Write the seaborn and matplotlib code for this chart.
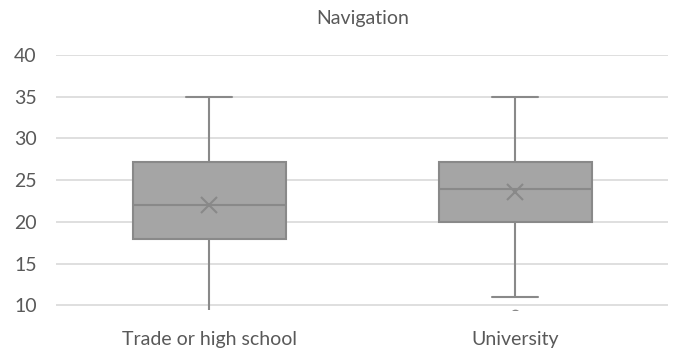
import matplotlib
matplotlib.use("Agg")
import matplotlib.pyplot as plt
import seaborn as sns
import pandas as pd

title = "Navigation"
categories = ["Trade or high school", "University"]
trade_scores = [9, 15, 18, 20, 22, 23, 27.2, 28.8, 35]
university_scores = [9, 11, 16, 20, 22, 23, 24, 25, 26, 27.2, 34, 34.6, 35]
y_ticks = [10, 15, 20, 25, 30, 35, 40]

df = pd.DataFrame({
    "group": [categories[0]] * len(trade_scores) + [categories[1]] * len(university_scores),
    "score": trade_scores + university_scores,
})

sns.set_theme(style="white")
plt.rcParams["font.family"] = ["Lato", "DejaVu Sans"]

fig = plt.figure(figsize=(6.77, 3.56), dpi=100)
ax = fig.add_axes([0.083, 0.129, 0.904, 0.7165])

edge = "#898989"
sns.boxplot(
    data=df, x="group", y="score", order=categories, ax=ax,
    color="#A5A5A5", saturation=1, width=0.5, linecolor=edge, linewidth=1.5,
    whis=1.5, showmeans=True, capwidths=0.15,
    meanprops=dict(marker="x", markeredgecolor=edge, markersize=11, markeredgewidth=1.5),
    flierprops=dict(marker="o", markerfacecolor="#A5A5A5", markeredgecolor=edge, markersize=6),
)

ax.set_ylim(9.45, 40)
ax.set_xlim(-0.5, 1.5)
ax.set_yticks(y_ticks)
ax.yaxis.grid(True, color="#D9D9D9", linewidth=1.2)
ax.set_axisbelow(True)
for s in ax.spines.values():
    s.set_visible(False)
ax.set_xlabel("")
ax.set_ylabel("")
ax.tick_params(axis="both", length=0, colors="#595959", labelsize=14)
ax.tick_params(axis="x", pad=15)
ax.tick_params(axis="y", pad=14)
ax.set_title(title, fontsize=14, color="#595959", pad=22)

fig.savefig("out.png", dpi=100)
